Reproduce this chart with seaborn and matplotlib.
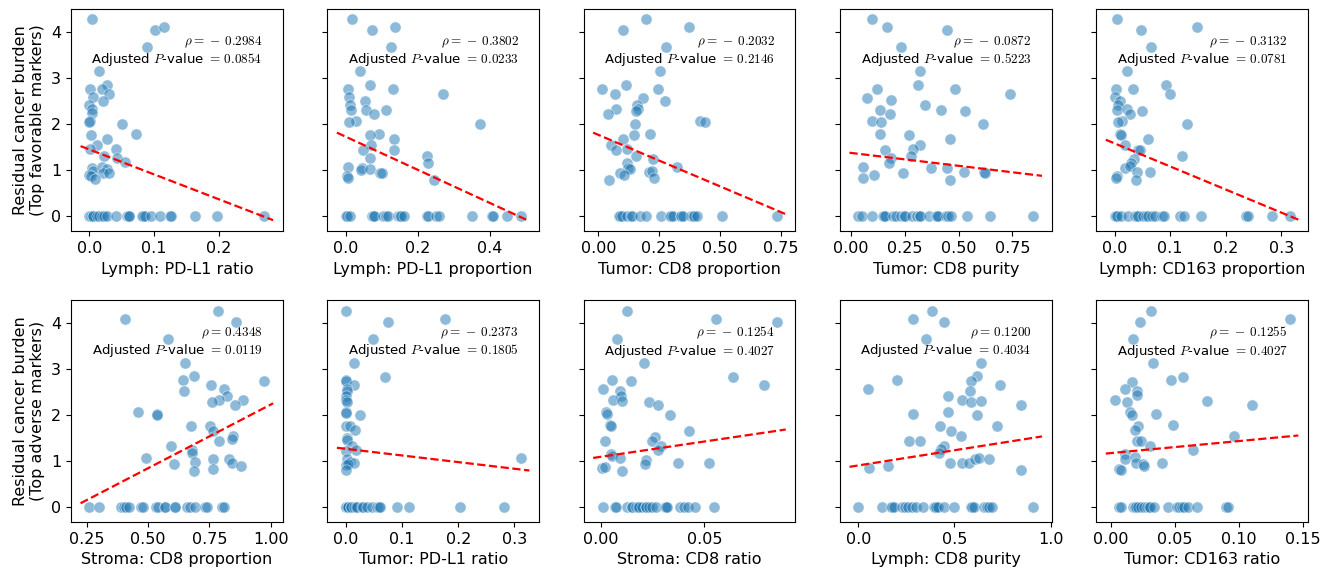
import numpy as np
import matplotlib
matplotlib.use("Agg")
import matplotlib.pyplot as plt
import seaborn as sns

plt.rcParams['mathtext.fontset'] = 'cm'
plt.rcParams['font.size'] = 11.5

# ---- top row: favourable markers ----
# Lymph: PD-L1 ratio
lpr_x = [0.004, 0.102, 0.115, 0.089, 0.015, 0.001, 0.028, 0.020, 0.030, 0.006, 0.021, 0.0,
         0.004, 0.004, 0.001, 0.0, 0.051, 0.073, 0.002, 0.027, 0.012, 0.001, 0.042, 0.043,
         0.022, 0.056, 0.004, 0.006, 0.019, 0.027, 0.021, 0.031, 0.0, 0.002, 0.009]
lpr_y = [4.27, 4.03, 4.10, 3.66, 3.14, 2.75, 2.85, 2.77, 2.66, 2.58, 2.51, 2.42,
         2.33, 2.24, 2.07, 2.04, 2.01, 1.78, 1.76, 1.67, 1.54, 1.46, 1.46, 1.27,
         1.31, 1.17, 1.04, 0.98, 1.07, 1.02, 0.94, 0.94, 0.89, 0.87, 0.81]
lpr_zero = [0.0, 0.003, 0.005, 0.006, 0.012, 0.015, 0.019, 0.022, 0.027, 0.042, 0.059,
            0.061, 0.062, 0.081, 0.083, 0.086, 0.096, 0.110, 0.125, 0.127, 0.163, 0.197, 0.271]

# Lymph: PD-L1 proportion
lpp_x = [0.017, 0.074, 0.137, 0.127, 0.040, 0.067, 0.006, 0.132, 0.270, 0.009, 0.053, 0.011,
         0.014, 0.057, 0.113, 0.079, 0.029, 0.009, 0.372, 0.093, 0.067, 0.135, 0.071, 0.047,
         0.134, 0.226, 0.228, 0.069, 0.006, 0.046, 0.044, 0.069, 0.096, 0.101, 0.004, 0.006, 0.244]
lpp_y = [4.27, 4.03, 4.10, 3.66, 3.14, 2.85, 2.75, 2.77, 2.66, 2.58, 2.51, 2.42,
         2.31, 2.31, 2.30, 2.22, 2.07, 2.04, 2.01, 1.78, 1.76, 1.67, 1.54, 1.45,
         1.45, 1.31, 1.15, 1.26, 1.08, 1.04, 1.00, 1.03, 0.94, 0.94, 0.87, 0.83, 0.80]
lpp_zero = [0.0, 0.003, 0.011, 0.073, 0.078, 0.080, 0.103, 0.112, 0.119, 0.145, 0.150, 0.154,
            0.161, 0.226, 0.229, 0.251, 0.260, 0.350, 0.405, 0.410, 0.449, 0.486]

# Tumor: CD8 proportion
tcp_x = [0.197, 0.103, 0.374, 0.279, 0.253, 0.114, 0.015, 0.068, 0.245, 0.275, 0.182, 0.160,
         0.165, 0.155, 0.071, 0.041, 0.419, 0.439, 0.150, 0.147, 0.212, 0.103, 0.052, 0.120,
         0.073, 0.154, 0.224, 0.117, 0.322, 0.124, 0.129, 0.208, 0.223, 0.090, 0.106, 0.229, 0.044]
tcp_y = [4.27, 4.03, 4.10, 3.66, 3.14, 2.85, 2.75, 2.66, 2.77, 2.51, 2.57, 2.42,
         2.33, 2.29, 2.32, 2.22, 2.07, 2.04, 2.01, 1.76, 1.78, 1.67, 1.54, 1.46,
         1.45, 1.31, 1.24, 1.15, 1.08, 1.05, 1.02, 0.96, 0.98, 0.94, 0.89, 0.83, 0.80]
tcp_zero = [0.086, 0.090, 0.099, 0.120, 0.133, 0.140, 0.171, 0.197, 0.256, 0.297, 0.300,
            0.307, 0.340, 0.341, 0.347, 0.382, 0.390, 0.392, 0.405, 0.507, 0.735]

# Tumor: CD8 purity
tcu_x = [0.100, 0.169, 0.448, 0.231, 0.322, 0.311, 0.123, 0.077, 0.484, 0.737, 0.186, 0.342,
         0.134, 0.182, 0.419, 0.530, 0.096, 0.139, 0.615, 0.137, 0.270, 0.462, 0.320, 0.287,
         0.160, 0.281, 0.188, 0.177, 0.057, 0.370, 0.447, 0.527, 0.619, 0.622, 0.240, 0.106,
         0.057, 0.459]
tcu_y = [4.27, 4.10, 4.03, 3.66, 3.14, 2.85, 2.77, 2.57, 2.75, 2.66, 2.52, 2.42,
         2.31, 2.22, 2.31, 2.29, 2.07, 2.04, 2.01, 1.78, 1.76, 1.67, 1.54, 1.46,
         1.45, 1.31, 1.27, 1.15, 1.08, 1.04, 1.06, 0.97, 0.97, 0.94, 0.94, 0.89,
         0.83, 0.80]
tcu_zero = [0.034, 0.052, 0.099, 0.149, 0.154, 0.160, 0.196, 0.211, 0.234, 0.246, 0.250,
            0.285, 0.308, 0.319, 0.320, 0.365, 0.396, 0.400, 0.404, 0.442, 0.450, 0.465,
            0.538, 0.646, 0.847]

# Lymph: CD163 proportion
lcp_x = [0.004, 0.047, 0.149, 0.066, 0.022, 0.092, 0.003, 0.034, 0.100, 0.0, 0.010, 0.006,
         0.005, 0.023, 0.027, 0.049, 0.013, 0.006, 0.131, 0.010, 0.012, 0.061, 0.018, 0.042,
         0.046, 0.121, 0.035, 0.030, 0.018, 0.027, 0.041, 0.063, 0.005, 0.003, 0.038]
lcp_y = [4.27, 4.03, 4.10, 3.66, 3.14, 2.85, 2.75, 2.77, 2.66, 2.58, 2.51, 2.42,
         2.31, 2.33, 2.22, 2.29, 2.07, 2.04, 2.01, 1.78, 1.76, 1.67, 1.54, 1.45,
         1.45, 1.31, 1.24, 1.15, 1.06, 1.09, 0.96, 0.96, 0.87, 0.83, 0.80]
lcp_zero = [0.0, 0.003, 0.005, 0.011, 0.024, 0.037, 0.040, 0.042, 0.051, 0.057, 0.060,
            0.067, 0.073, 0.085, 0.089, 0.118, 0.125, 0.155, 0.237, 0.240, 0.283, 0.315]

# ---- bottom row: adverse markers ----
# Stroma: CD8 proportion
scp_x = [0.405, 0.785, 0.857, 0.582, 0.649, 0.643, 0.686, 0.647, 0.755, 0.811, 0.822, 0.789,
         0.762, 0.887, 0.853, 0.974, 0.457, 0.534, 0.538, 0.674, 0.753, 0.765, 0.846, 0.843,
         0.789, 0.592, 0.679, 0.677, 0.492, 0.605, 0.693, 0.765, 0.829, 0.843, 0.878, 0.687,
         0.765]
scp_y = [4.08, 4.26, 4.02, 3.64, 3.125, 2.76, 2.84, 2.51, 2.65, 2.57, 2.42, 2.32,
         2.28, 2.32, 2.22, 2.74, 2.07, 2.03, 1.99, 1.77, 1.76, 1.65, 1.54, 1.47,
         1.43, 1.32, 1.24, 1.17, 1.07, 0.94, 0.98, 1.04, 1.04, 0.96, 0.90, 0.79,
         0.84]
scp_zero = [0.26, 0.30, 0.39, 0.40, 0.41, 0.42, 0.47, 0.48, 0.53, 0.54, 0.57, 0.57,
            0.61, 0.61, 0.66, 0.67, 0.69, 0.73, 0.74, 0.80, 0.81]

# Tumor: PD-L1 ratio
tpr_x = [0.0, 0.076, 0.177, 0.049, 0.015, 0.070, 0.0, 0.001, 0.014, 0.002, 0.003, 0.0,
         0.001, 0.002, 0.026, 0.0, 0.001, 0.0, 0.007, 0.017, 0.002, 0.002, 0.011, 0.018,
         0.0, 0.002, 0.008, 0.014, 0.0, 0.005, 0.0, 0.311]
tpr_y = [4.26, 4.02, 4.08, 3.64, 3.125, 2.83, 2.76, 2.74, 2.65, 2.57, 2.51, 2.42,
         2.32, 2.28, 2.01, 2.07, 2.04, 1.76, 1.76, 1.67, 1.50, 1.45, 1.32, 1.25,
         1.23, 1.04, 0.99, 0.95, 0.91, 0.93, 0.81, 1.07]
tpr_zero = [0.0, 0.0, 0.0, 0.001, 0.002, 0.004, 0.005, 0.009, 0.010, 0.014, 0.018, 0.021,
            0.029, 0.030, 0.038, 0.046, 0.055, 0.060, 0.061, 0.092, 0.113, 0.204, 0.282]

# Stroma: CD8 ratio
scr_x = [0.0125, 0.0556, 0.085, 0.0077, 0.0208, 0.0056, 0.0144, 0.0636, 0.0788, 0.0008,
         0.0093, 0.0096, 0.0059, 0.0101, 0.023, 0.0275, 0.0026, 0.0029, 0.0335, 0.0043,
         0.0048, 0.0427, 0.026, 0.0021, 0.0248, 0.0288, 0.0275, 0.0051, 0.0056, 0.0093,
         0.0217, 0.0212, 0.0372, 0.0524, 0.0005, 0.0019, 0.0104]
scr_y = [4.26, 4.08, 4.02, 3.64, 3.125, 2.76, 2.74, 2.83, 2.65, 2.57,
         2.51, 2.42, 2.32, 2.31, 2.28, 2.22, 2.06, 2.02, 2.00, 1.78,
         1.76, 1.65, 1.53, 1.43, 1.43, 1.32, 1.25, 1.15, 1.12, 1.07,
         1.03, 0.93, 0.97, 0.95, 0.85, 0.88, 0.79]
scr_zero = [0.0008, 0.0069, 0.0075, 0.0128, 0.015, 0.0152, 0.0168, 0.018, 0.0184, 0.020,
            0.0216, 0.022, 0.0232, 0.0248, 0.0268, 0.031, 0.0312, 0.032, 0.0383, 0.040,
            0.0419, 0.0455, 0.0548]

# Lymph: CD8 purity
lcu_x = [0.386, 0.285, 0.444, 0.350, 0.640, 0.619, 0.204, 0.585, 0.736, 0.053, 0.581, 0.468,
         0.542, 0.588, 0.636, 0.846, 0.468, 0.285, 0.619, 0.425, 0.482, 0.719, 0.533, 0.262,
         0.319, 0.444, 0.431, 0.422, 0.479, 0.542, 0.576, 0.605, 0.628, 0.679, 0.156, 0.057,
         0.846]
lcu_y = [4.26, 4.08, 4.02, 3.64, 3.125, 2.84, 2.76, 2.74, 2.65, 2.57, 2.51, 2.42,
         2.32, 2.29, 2.31, 2.22, 2.07, 2.03, 2.01, 1.77, 1.65, 1.76, 1.54, 1.44,
         1.44, 1.32, 1.26, 1.18, 0.95, 0.97, 0.95, 1.04, 1.07, 1.04, 0.90, 0.85,
         0.81]
lcu_zero = [0.0, 0.125, 0.170, 0.173, 0.187, 0.230, 0.242, 0.259, 0.280, 0.302, 0.336,
            0.396, 0.400, 0.405, 0.413, 0.448, 0.499, 0.585, 0.590, 0.602, 0.653, 0.670,
            0.679, 0.696, 0.910]

# Tumor: CD163 ratio
tcr_x = [0.0316, 0.0231, 0.1396, 0.0174, 0.0329, 0.0472, 0.0567, 0.0166, 0.0109, 0.0207,
         0.0207, 0.0031, 0.0127, 0.0751, 0.1106, 0.0148, 0.0166, 0.0355, 0.0212, 0.0484,
         0.0192, 0.0205, 0.0238, 0.0959, 0.0308, 0.0645, 0.0114, 0.0109, 0.0187, 0.0199,
         0.0251, 0.0259, 0.0399, 0.0065, 0.0083]
tcr_y = [4.26, 4.02, 4.08, 3.64, 3.125, 2.76, 2.83, 2.72, 2.57, 2.51,
         2.43, 2.32, 2.28, 2.31, 2.22, 2.07, 2.01, 2.02, 1.76, 1.78,
         1.67, 1.44, 1.44, 1.54, 1.32, 1.24, 1.15, 1.04, 1.08, 0.97,
         0.93, 0.90, 0.95, 0.84, 0.80]
tcr_zero = [0.0062, 0.0078, 0.0174, 0.0187, 0.020, 0.0212, 0.0238, 0.0259, 0.0285, 0.030,
            0.0311, 0.0337, 0.0446, 0.0518, 0.0536, 0.056, 0.0575, 0.0601, 0.0674, 0.0899,
            0.0912]

panels = [
    ("Lymph: PD-L1 ratio", lpr_x, lpr_y, lpr_zero),
    ("Lymph: PD-L1 proportion", lpp_x, lpp_y, lpp_zero),
    ("Tumor: CD8 proportion", tcp_x, tcp_y, tcp_zero),
    ("Tumor: CD8 purity", tcu_x, tcu_y, tcu_zero),
    ("Lymph: CD163 proportion", lcp_x, lcp_y, lcp_zero),
    ("Stroma: CD8 proportion", scp_x, scp_y, scp_zero),
    ("Tumor: PD-L1 ratio", tpr_x, tpr_y, tpr_zero),
    ("Stroma: CD8 ratio", scr_x, scr_y, scr_zero),
    ("Lymph: CD8 purity", lcu_x, lcu_y, lcu_zero),
    ("Tumor: CD163 ratio", tcr_x, tcr_y, tcr_zero),
]
rho_text = ["-0.2984", "-0.3802", "-0.2032", "-0.0872", "-0.3132",
            "0.4348", "-0.2373", "-0.1254", "0.1200", "-0.1255"]
pval_text = ["0.0854", "0.0233", "0.2146", "0.5223", "0.0781",
             "0.0119", "0.1805", "0.4027", "0.4034", "0.4027"]
row_labels = ["Residual cancer burden\n(Top favorable markers)",
              "Residual cancer burden\n(Top adverse markers)"]

fig, axes = plt.subplots(2, 5, figsize=(13.26, 5.75), dpi=100, sharey=True)
fig.subplots_adjust(left=0.0535, right=0.9864, top=0.984, bottom=0.092,
                    wspace=0.21, hspace=0.31)

for i, (ax, (name, xs, ys, zeros)) in enumerate(zip(axes.flat, panels)):
    x = np.array(xs + zeros)
    y = np.array(ys + [0.0] * len(zeros))
    sns.scatterplot(x=x, y=y, ax=ax, s=65, alpha=0.5, color='tab:blue')
    sns.regplot(x=x, y=y, ax=ax, scatter=False, ci=None, truncate=False,
                line_kws=dict(color='red', linestyle='--', linewidth=1.6))
    # let the axis add its usual margin around the fitted line
    ax.lines[-1].sticky_edges.x.clear()
    ax.autoscale_view()

    r = rho_text[i]
    r_tex = f"-\\,{r[1:]}" if r.startswith('-') else r
    ax.text(0.905, 0.81,
            f"$\\rho =\\,{r_tex}$\nAdjusted $P$-value $=\\,{pval_text[i]}$",
            transform=ax.transAxes, ha='right', va='center',
            multialignment='right', fontsize=9.5, linespacing=1.1)
    ax.set_xlabel(name)
    if i % 5 == 0:
        ax.set_ylabel(row_labels[i // 5])
    else:
        ax.set_ylabel("")

plt.savefig("out.png", dpi=100)
